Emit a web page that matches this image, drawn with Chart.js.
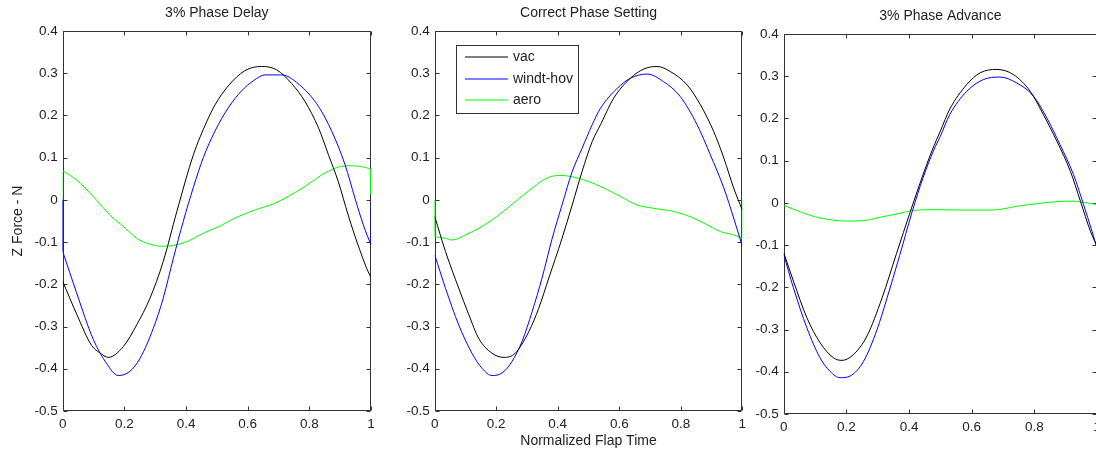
<!DOCTYPE html>
<html><head><meta charset="utf-8">
<script src="https://cdn.jsdelivr.net/npm/chart.js@4/dist/chart.umd.min.js"></script>
<style>
html,body{margin:0;padding:0;width:1096px;height:450px;overflow:hidden;background:#fff;}
canvas{position:absolute;top:0;}
</style></head><body>
<canvas id="c1" width="380" height="450" style="left:0px"></canvas>
<canvas id="c2" width="372" height="450" style="left:380px"></canvas>
<canvas id="c3" width="380" height="450" style="left:740px"></canvas>
<script>
// ---------- data ----------
const seriesNames = ['vac', 'windt-hov', 'aero'];
const panelTitles = ['3% Phase Delay', 'Correct Phase Setting', '3% Phase Advance'];
const xAxisTitle = 'Normalized Flap Time';
const yAxisTitle = 'Z Force - N';
const xTickValues = [0, 0.2, 0.4, 0.6, 0.8, 1];
const xTickLabels = ['0', '0.2', '0.4', '0.6', '0.8', '1'];
const yTickValues = [-0.5, -0.4, -0.3, -0.2, -0.1, 0, 0.1, 0.2, 0.3, 0.4];
const yTickLabels = ['-0.5', '-0.4', '-0.3', '-0.2', '-0.1', '0', '0.1', '0.2', '0.3', '0.4'];

// Panel 1: 3% phase delay
const delayVac = [[0,-0.193],[0.045,-0.27],[0.094,-0.345],[0.12,-0.362],[0.148,-0.373],[0.197,-0.347],[0.24,-0.296],[0.283,-0.233],[0.326,-0.146],[0.37,-0.028],[0.424,0.107],[0.467,0.185],[0.494,0.225],[0.537,0.27],[0.591,0.306],[0.645,0.316],[0.694,0.308],[0.742,0.276],[0.786,0.233],[0.83,0.17],[0.862,0.107],[0.894,0.043],[0.926,-0.036],[0.958,-0.107],[0.996,-0.178],[1,-0.182]];
const delayHov = [[0,-0.122],[0.045,-0.22],[0.099,-0.33],[0.143,-0.388],[0.18,-0.416],[0.218,-0.406],[0.251,-0.375],[0.294,-0.304],[0.326,-0.233],[0.359,-0.138],[0.391,-0.051],[0.424,0.03],[0.456,0.1],[0.494,0.163],[0.537,0.218],[0.58,0.258],[0.62,0.283],[0.656,0.296],[0.71,0.296],[0.775,0.268],[0.83,0.221],[0.873,0.162],[0.916,0.083],[0.948,0.004],[0.975,-0.059],[1,-0.107]];
const delayAero = [[0,0.069],[0.045,0.047],[0.099,0.008],[0.153,-0.036],[0.197,-0.063],[0.24,-0.091],[0.283,-0.105],[0.326,-0.11],[0.359,-0.108],[0.402,-0.099],[0.456,-0.079],[0.51,-0.062],[0.559,-0.043],[0.623,-0.024],[0.688,-0.008],[0.731,0.008],[0.786,0.032],[0.84,0.059],[0.883,0.075],[0.926,0.081],[0.969,0.079],[1,0.073]];
const delayHovEdges = [[0,0],[0,-0.122],[1,null],[1,-0.107],[1,-0.015]];
const delayAeroEdges = [[0,0],[0,0.069],[1,null],[1,0.073],[1,0.012]];

// Panel 2: correct phase setting
const correctVac = [[0,-0.039],[0.035,-0.122],[0.078,-0.209],[0.111,-0.272],[0.143,-0.328],[0.186,-0.363],[0.225,-0.373],[0.262,-0.363],[0.306,-0.312],[0.338,-0.257],[0.371,-0.185],[0.414,-0.091],[0.447,-0.012],[0.479,0.067],[0.512,0.138],[0.539,0.178],[0.582,0.241],[0.636,0.288],[0.68,0.31],[0.723,0.316],[0.766,0.304],[0.821,0.272],[0.864,0.225],[0.907,0.162],[0.94,0.099],[0.972,0.028],[1,-0.024]];
const correctHov = [[0,-0.13],[0.035,-0.209],[0.078,-0.296],[0.121,-0.363],[0.154,-0.399],[0.186,-0.416],[0.219,-0.41],[0.251,-0.383],[0.284,-0.335],[0.317,-0.264],[0.349,-0.185],[0.382,-0.091],[0.414,-0.012],[0.447,0.067],[0.479,0.122],[0.512,0.178],[0.539,0.217],[0.593,0.264],[0.636,0.288],[0.69,0.298],[0.744,0.28],[0.798,0.245],[0.853,0.178],[0.896,0.107],[0.94,0.028],[0.972,-0.043],[1,-0.11]];
const correctAero = [[0,-0.087],[0.035,-0.091],[0.056,-0.095],[0.1,-0.083],[0.154,-0.063],[0.208,-0.036],[0.262,-0.004],[0.317,0.028],[0.36,0.05],[0.403,0.058],[0.447,0.055],[0.495,0.045],[0.55,0.028],[0.604,0.008],[0.658,-0.012],[0.712,-0.02],[0.766,-0.026],[0.821,-0.037],[0.875,-0.055],[0.929,-0.075],[0.972,-0.083],[1,-0.091]];
const correctHovEdges = [];
const correctAeroEdges = [[0,0],[0,-0.087],[1,null],[1,-0.091],[1,0]];

// Panel 3: 3% phase advance
const advanceVac = [[0,-0.118],[0.031,-0.185],[0.074,-0.272],[0.116,-0.331],[0.159,-0.367],[0.186,-0.373],[0.223,-0.359],[0.266,-0.315],[0.314,-0.225],[0.36,-0.12],[0.404,-0.021],[0.44,0.057],[0.474,0.125],[0.5,0.17],[0.53,0.222],[0.584,0.28],[0.627,0.308],[0.68,0.316],[0.733,0.304],[0.787,0.264],[0.829,0.209],[0.872,0.146],[0.915,0.075],[0.947,0.004],[0.979,-0.067],[1,-0.103]];
const advanceHov = [[0,-0.122],[0.031,-0.201],[0.074,-0.296],[0.116,-0.367],[0.148,-0.399],[0.18,-0.414],[0.212,-0.41],[0.255,-0.375],[0.298,-0.3],[0.33,-0.225],[0.37,-0.125],[0.41,-0.021],[0.445,0.06],[0.479,0.125],[0.5,0.158],[0.53,0.209],[0.584,0.264],[0.637,0.292],[0.69,0.298],[0.744,0.284],[0.797,0.253],[0.84,0.201],[0.882,0.138],[0.925,0.067],[0.957,-0.004],[0.984,-0.067],[1,-0.107]];
const advanceAero = [[0,-0.006],[0.042,-0.018],[0.095,-0.032],[0.148,-0.04],[0.202,-0.043],[0.255,-0.042],[0.308,-0.034],[0.362,-0.026],[0.415,-0.018],[0.469,-0.016],[0.573,-0.017],[0.659,-0.017],[0.702,-0.014],[0.744,-0.008],[0.808,-0.002],[0.872,0.003],[0.925,0.004],[0.968,0],[1,-0.004]];
const advanceHovEdges = [[1,-0.107],[1,0]];
const advanceAeroEdges = [];

// ---------- styling / drawing ----------
const FONT = '"Liberation Sans", Arial, Helvetica, sans-serif';
const TEXT = '#222';
const AXIS = '#333';
const lineColors = ['#000000', '#0000ff', '#00ff00'];

const matlabAxes = {
  id: 'matlabAxes',
  beforeDatasetsDraw(chart) {
    const ctx = chart.ctx, a = chart.chartArea;
    const xs = chart.scales.x, ys = chart.scales.y;
    const L = Math.round(a.left) + 0.5, R = Math.round(a.right) - 0.5;
    const T = Math.round(a.top) + 0.5, B = Math.round(a.bottom) - 0.5;
    const tl = 4;
    ctx.save();
    ctx.strokeStyle = AXIS; ctx.lineWidth = 1;
    ctx.beginPath();
    ctx.rect(L, T, R - L, B - T);
    xTickValues.forEach(v => {
      const px = Math.round(xs.getPixelForValue(v)) + 0.5;
      ctx.moveTo(px, B); ctx.lineTo(px, B - tl);
      ctx.moveTo(px, T); ctx.lineTo(px, T + tl);
    });
    yTickValues.forEach(v => {
      const py = Math.round(ys.getPixelForValue(v)) + 0.5;
      ctx.moveTo(L, py); ctx.lineTo(L + tl, py);
      ctx.moveTo(R, py); ctx.lineTo(R - tl, py);
    });
    ctx.stroke();
    ctx.restore();
  }
};

const boxLegend = {
  id: 'boxLegend',
  afterDraw(chart, args, o) {
    if (!o.show) return;
    const ctx = chart.ctx;
    ctx.save();
    ctx.fillStyle = '#fff';
    ctx.fillRect(o.x, o.y, o.w, o.h);
    ctx.strokeStyle = AXIS; ctx.lineWidth = 1;
    ctx.strokeRect(o.x + 0.5, o.y + 0.5, o.w - 1, o.h - 1);
    ctx.font = '14px ' + FONT;
    ctx.textBaseline = 'middle';
    chart.data.datasets.slice(0, seriesNames.length).forEach((ds, i) => {
      const cy = Math.round(o.y + o.first + i * o.step);
      ctx.strokeStyle = ds.borderColor;
      ctx.lineWidth = 1.2;
      ctx.beginPath();
      ctx.moveTo(o.x + o.lineStart, cy); ctx.lineTo(o.x + o.lineEnd, cy);
      ctx.stroke();
      ctx.fillStyle = TEXT;
      ctx.fillText(ds.label, o.x + o.textX, cy);
    });
    ctx.restore();
  }
};

const toPts = s => s.map(p => ({x: p[0], y: p[1]}));

function makeChart(id, title, series, edges, o) {
  const datasets = series.map((s, i) => ({
    label: seriesNames[i],
    data: toPts(s),
    borderColor: lineColors[i],
    backgroundColor: lineColors[i],
    borderWidth: 1,
    pointRadius: 0,
    cubicInterpolationMode: 'monotone',
    fill: false
  }));
  edges.forEach((e, i) => {
    if (!e.length) return;
    datasets.push({
      label: seriesNames[i] + ' edge',
      data: toPts(e),
      borderColor: lineColors[i],
      borderWidth: 1,
      pointRadius: 0,
      tension: 0,
      spanGaps: false,
      fill: false
    });
  });
  return new Chart(document.getElementById(id), {
    type: 'line',
    data: {datasets},
    plugins: [matlabAxes, boxLegend],
    options: {
      responsive: false, animation: false, devicePixelRatio: 1,
      layout: {padding: {left: 0, right: o.padRight, top: 0, bottom: 0}},
      plugins: {
        legend: {display: false}, tooltip: {enabled: false},
        title: {display: true, fullSize: false, text: title, color: TEXT,
          font: {family: FONT, size: 14, weight: 'normal', lineHeight: 1.2},
          padding: {top: o.titleTop, bottom: o.titleBottom}},
        boxLegend: o.legend || {show: false}
      },
      scales: {
        x: {
          type: 'linear', min: 0, max: 1,
          grid: {display: false, drawTicks: false}, border: {display: false},
          afterBuildTicks: s => { s.ticks = xTickValues.map(v => ({value: v})); },
          afterFit: s => { s.height = o.xHeight; s.paddingLeft = 0; s.paddingRight = 0; },
          ticks: {color: TEXT, font: {family: FONT, size: 13.5}, padding: 5, maxRotation: 0, autoSkip: false,
            callback: (v, i) => xTickLabels[i]},
          title: {display: !!o.xTitle, text: o.xTitle || '', color: TEXT,
            font: {family: FONT, size: 14, lineHeight: 1.2}, padding: {top: 0, bottom: 0}}
        },
        y: {
          type: 'linear', min: -0.5, max: 0.4,
          grid: {display: false, drawTicks: false}, border: {display: false},
          afterBuildTicks: s => { s.ticks = yTickValues.map(v => ({value: v})); },
          afterFit: s => { s.width = o.yWidth; s.paddingTop = 0; s.paddingBottom = 0; },
          ticks: {color: TEXT, font: {family: FONT, size: 13.5}, padding: 5, autoSkip: false,
            callback: (v, i) => yTickLabels[i]},
          title: {display: !!o.yTitle, text: o.yTitle || '', color: TEXT,
            font: {family: FONT, size: 14, lineHeight: 1.2}, padding: {top: 9.6, bottom: 0}}
        }
      }
    }
  });
}

makeChart('c1', panelTitles[0], [delayVac, delayHov, delayAero], [[], delayHovEdges, delayAeroEdges],
  {padRight: 9, titleTop: 5, titleBottom: 9.2, xHeight: 39, yWidth: 62.7, yTitle: yAxisTitle});
makeChart('c2', panelTitles[1], [correctVac, correctHov, correctAero], [[], correctHovEdges, correctAeroEdges],
  {padRight: 9.7, titleTop: 5, titleBottom: 9.2, xHeight: 39, yWidth: 54.7, xTitle: xAxisTitle,
   legend: {show: true, x: 76, y: 45, w: 123, h: 69, first: 12.3, step: 21.5, lineStart: 9, lineEnd: 52, textX: 57}});
makeChart('c3', panelTitles[2], [advanceVac, advanceHov, advanceAero], [[], advanceHovEdges, advanceAeroEdges],
  {padRight: 23, titleTop: 8, titleBottom: 9.2, xHeight: 36, yWidth: 43.7});
</script></body></html>
